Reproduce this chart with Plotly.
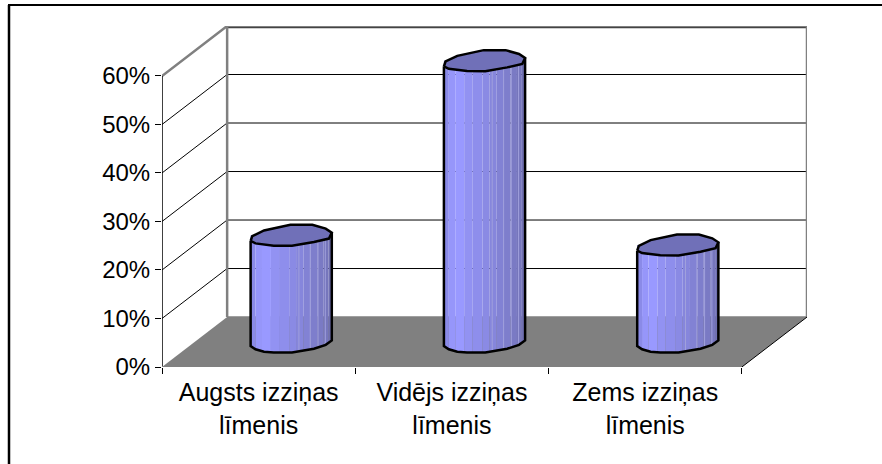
import numpy as np
import plotly.graph_objects as go

categories = ["Augsts izziņas<br>līmenis", "Vidējs izziņas<br>līmenis", "Zems izziņas<br>līmenis"]
values = [22, 58, 20]
y_ticks = [0, 10, 20, 30, 40, 50, 60]
y_labels = ["0%", "10%", "20%", "30%", "40%", "50%", "60%"]

W, H = 882, 464
L, R, T, B = 162, 807, 26, 367
DX = 0.337          # depth of the box along x, in category units
DY = 10.3           # depth of the box along y, in percent units
N = len(categories)
HALF = 0.21         # cylinder half width, in category units
ASPECT = 40.5 / 4.85  # percent units per cylinder half-width

RIM = [(-1.0, -.14), (-.96, -.02), (-.67, .12), (-.02, .26), (.52, .26), (.85, .165), (1.0, .066),
       (.93, -.08), (.56, -.165), (.02, -.26), (-.43, -.255), (-.67, -.23), (-.88, -.2)]
LOWER = [(-1.0, -.1), (-.88, -.18), (-.67, -.24), (-.43, -.26), (.02, -.26), (.56, -.165), (.85, -.07), (1.0, .04)]
STRIP_EDGES = [-1, -.88, -.72, -.5, -.3, -.05, .12, .3, .48, .64, .8, .92, 1]
STRIP_COLORS = ["#8a8ae8", "#9696fa", "#9999ff", "#9292f2", "#8e8eec", "#8a8ae4", "#8686dc",
                "#8282d4", "#7e7ecc", "#7a7ac4", "#7676bc", "#7070b2"]
SEAMS = [.19, .47, .66, .84]
GRAY = "#808080"

fig = go.Figure()


def line(xs, ys, color="black", width=1):
    fig.add_trace(go.Scatter(x=xs, y=ys, mode="lines", line=dict(color=color, width=width),
                             hoverinfo="skip", showlegend=False))


def fill(xs, ys, color, outline=None, width=2):
    fig.add_trace(go.Scatter(x=xs, y=ys, mode="lines", fill="toself", fillcolor=color,
                             line=dict(color=outline or color, width=width if outline else 0),
                             hoverinfo="skip", showlegend=False))


# floor
fill([0, DX, N + DX, N, 0], [0, DY, DY, 0, 0], GRAY)

# grid on walls
for t in y_ticks[1:-1]:
    line([0, DX, N + DX], [t, t + DY, t + DY])
line([DX, N + DX], [60 + DY - .35, 60 + DY - .35])

# wall edges
line([0, DX, N + DX, N + DX], [60, 60 + DY, 60 + DY, DY], GRAY, 2.5)
line([DX, DX], [DY, 60 + DY], GRAY, 2.5)
line([DX, N + DX], [DY, DY], GRAY, 1.5)

# axis lines
line([0, 0], [0, 60], "black", 1.5)
line([0, N], [0, 0], GRAY, 2)
line([N, N + DX], [0, DY], "black", 1)

# cylinders
lx = np.array([p[0] for p in LOWER])
ly = np.array([p[1] for p in LOWER])
for i, v in enumerate(values):
    cx = i + .5 + DX / 2
    base = DY / 2
    for j, col in enumerate(STRIP_COLORS):
        a, b = STRIP_EDGES[j], STRIP_EDGES[j + 1]
        u = np.linspace(a, b, 4)
        low = base + np.interp(u, lx, ly) * ASPECT
        fill(list(cx + u * HALF) + [cx + b * HALF, cx + a * HALF, cx + a * HALF],
             list(low) + [base + v, base + v, low[0]], col)
    for s in SEAMS:
        low = base + np.interp(s, lx, ly) * ASPECT
        line([cx + s * HALF] * 2, [low, base + v], "#a0a0dc", 1)
    # body outline
    line([cx - HALF] + list(cx + lx * HALF) + [cx + HALF],
         [base + v + RIM[0][1] * ASPECT] + list(base + ly * ASPECT) + [base + v + RIM[6][1] * ASPECT],
         "black", 2.5)
    rx = [cx + p[0] * HALF for p in RIM] + [cx + RIM[0][0] * HALF]
    ry = [base + v + p[1] * ASPECT for p in RIM] + [base + v + RIM[0][1] * ASPECT]
    fill(rx, ry, "#7070b8", "black", 2.5)


def px(x):
    return (x - L) / (R - L)


def py(y):
    return (B - y) / (B - T)


fig.update_layout(
    width=W, height=H, margin=dict(l=L, r=W - R, t=T, b=H - B, pad=0),
    paper_bgcolor="white", plot_bgcolor="white", showlegend=False,
    font=dict(family="Liberation Sans, Arial", size=24, color="black"),
    shapes=[dict(type="line", xref="paper", yref="paper", x0=px(9), x1=px(9), y0=py(5), y1=py(464),
                 line=dict(color="black", width=2.5)),
            dict(type="line", xref="paper", yref="paper", x0=px(8), x1=px(882), y0=py(5), y1=py(5),
                 line=dict(color="black", width=2))],
    xaxis=dict(range=[0, N + DX], tickmode="array", tickvals=[i + .5 for i in range(N)],
               ticktext=categories, ticks="", showgrid=False, zeroline=False, showline=False,
               tickangle=0, tickfont=dict(size=25), ticklabelstandoff=8,
               minor=dict(tick0=0, dtick=1, ticks="outside", ticklen=6, tickcolor="black", tickwidth=1, showgrid=False)),
    yaxis=dict(range=[0, 60 + DY], tickmode="array", tickvals=y_ticks, ticktext=y_labels,
               ticks="outside", ticklen=6, tickcolor="black", tickwidth=1, showgrid=False,
               zeroline=False, showline=False, tickfont=dict(size=24)),
)

fig.write_html("out.html", config=dict(displayModeBar=False),
               post_script="document.body.style.margin='0';document.body.style.overflow='hidden';")
